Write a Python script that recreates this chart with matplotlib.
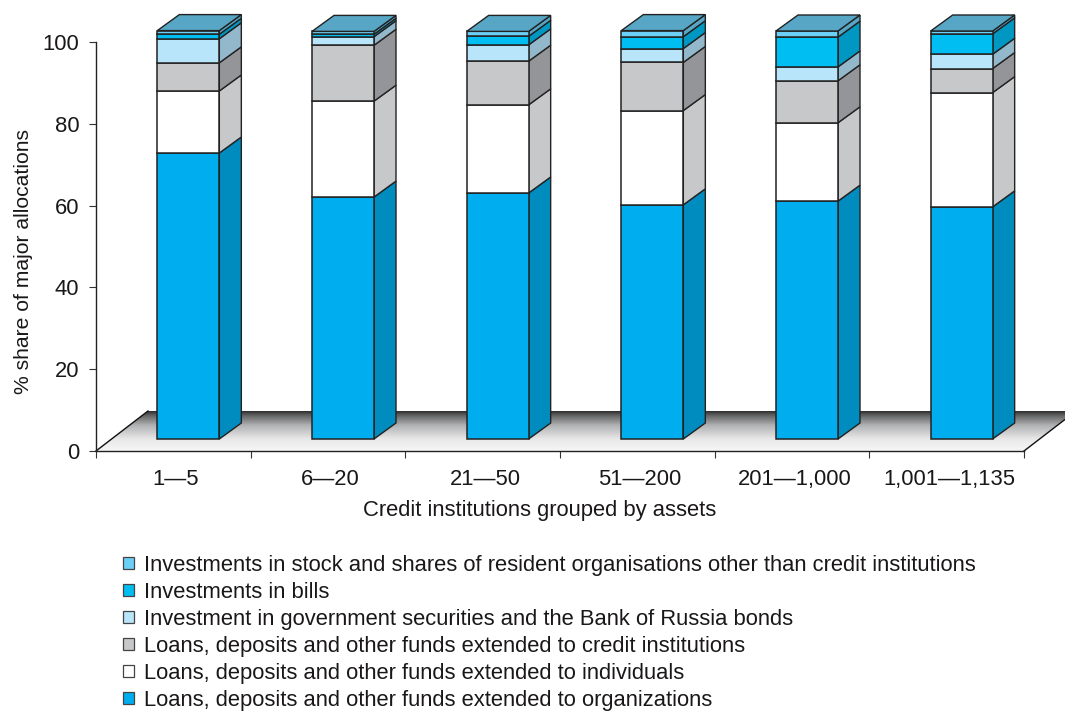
import numpy as np
import matplotlib
matplotlib.use("Agg")
import matplotlib.pyplot as plt
from matplotlib.colors import LinearSegmentedColormap
from matplotlib.patches import Patch, Polygon

plt.rcParams['font.family'] = ['Liberation Sans', 'DejaVu Sans']

categories = ['1—5', '6—20', '21—50', '51—200', '201—1,000', '1,001—1,135']
organisations = [70.1, 59.3, 60.3, 57.4, 58.3, 56.9]
individuals = [15.2, 23.5, 21.6, 23.1, 19.2, 28.0]
credit_institutions = [6.9, 13.7, 10.7, 11.8, 10.3, 5.9]
government = [5.9, 2.1, 4.0, 3.4, 3.4, 3.5]
bills = [1.1, 0.6, 2.1, 2.9, 7.3, 5.0]
stock = [0.9, 0.7, 1.2, 1.5, 1.5, 0.7]

series = [organisations, individuals, credit_institutions, government, bills, stock]
labels = ['Loans, deposits and other funds extended to organizations',
          'Loans, deposits and other funds extended to individuals',
          'Loans, deposits and other funds extended to credit institutions',
          'Investment in government securities and the Bank of Russia bonds',
          'Investments in bills',
          'Investments in stock and shares of resident organisations other than credit institutions']
front_colors = ['#00AEEF', '#FFFFFF', '#C7C8CA', '#B9E5FB', '#00BDF2', '#6DCFF6']
side_colors = ['#008CBF', '#C7C8CA', '#939598', '#93B7CB', '#0098C2', '#57A6C5']
top_color = '#57A6C5'
edge = '#222222'
text_color = '#1A1718'
FS = 15.8

W, H = 1065, 711
fig = plt.figure(figsize=(W / 100, H / 100), dpi=100)
ax = fig.add_axes([96 / W, 1 - 451 / H, (1024 - 96) / W, (451 - 42) / H])
ax.set_xlim(0, 6)
ax.set_ylim(0, 100)

px = 6 / (1024 - 96)      # data units per pixel, horizontally
py = 100 / (451 - 42)     # data units per pixel, vertically

# floor
floor_dx, floor_dy = 52 * px, 40 * py
floor = Polygon([(0, 0), (6, 0), (6 + floor_dx, floor_dy), (floor_dx, floor_dy)],
                closed=True, transform=ax.transData, facecolor='none', edgecolor='none')
ax.add_patch(floor)
cmap = LinearSegmentedColormap.from_list(
    'floor', [(0, '#F6F6F6'), (0.3, '#E8E8E9'), (0.65, '#B0B1B3'), (0.9, '#606060'), (1, '#2E2E2E')])
grad = np.linspace(0, 1, 128).reshape(-1, 1)
im = ax.imshow(grad, origin='lower', cmap=cmap, aspect='auto',
               extent=(0, 6 + floor_dx, 0, floor_dy), zorder=1)
im.set_clip_box(fig.bbox)
im.set_clip_path(floor)
ax.plot([0, floor_dx], [0, floor_dy], color='#111111', lw=1.0, zorder=2, clip_on=False)
ax.plot([6, 6 + floor_dx], [0, floor_dy], color='#111111', lw=1.0, zorder=2, clip_on=False)
ax.set_xlim(0, 6)
ax.set_ylim(0, 100)

# 3-D bars
bar_w = 62 * px
x_shift = 15 * px
base = 12 * py
dep_x, dep_y = 22 * px, 16 * py
scale = 4.08 / 4.09
xs = np.arange(len(categories)) + 0.5 + x_shift

bottom = np.full(len(categories), base)
for vals, fc, sc in zip(series, front_colors, side_colors):
    h = np.array(vals) * scale
    ax.bar(xs, h, width=bar_w, bottom=bottom, color=fc, edgecolor=edge, linewidth=1.1,
           zorder=4, clip_on=False)
    for x, b, hh in zip(xs, bottom, h):
        r = x + bar_w / 2
        ax.fill([r, r + dep_x, r + dep_x, r], [b, b + dep_y, b + hh + dep_y, b + hh],
                facecolor=sc, edgecolor=edge, linewidth=1.0, zorder=3.5, clip_on=False)
    bottom = bottom + h
for x, t in zip(xs, bottom):
    l, r = x - bar_w / 2, x + bar_w / 2
    ax.fill([l, r, r + dep_x, l + dep_x], [t, t, t + dep_y, t + dep_y],
            facecolor=top_color, edgecolor=edge, linewidth=1.0, zorder=5, clip_on=False)

# axes
for s in ('top', 'right'):
    ax.spines[s].set_visible(False)
for s in ('left', 'bottom'):
    ax.spines[s].set_color('#222222')
    ax.spines[s].set_linewidth(1.0)
    ax.spines[s].set_zorder(6)
ax.set_yticks([0, 20, 40, 60, 80, 100])
ax.tick_params(axis='y', length=5, width=0.8, color='#333333', labelsize=FS,
               labelcolor=text_color, pad=7)
ax.set_xticks(np.arange(7))
ax.set_xticklabels([])
ax.set_xticks(np.arange(6) + 0.5 + 2.5 * px, categories, minor=True)
ax.tick_params(axis='x', which='major', length=5, width=0.8, color='#333333')
ax.tick_params(axis='x', which='minor', length=0, labelsize=FS, labelcolor=text_color, pad=13)
ax.set_xlabel('Credit institutions grouped by assets', fontsize=FS, color=text_color,
              x=(540 - 96) / (1024 - 96), labelpad=7)
ax.set_ylabel('% share of major allocations', fontsize=15.2, color=text_color,
              y=(451 - 261) / (451 - 42), labelpad=7)

# legend
handles = [Patch(facecolor=c, edgecolor='#444444', linewidth=0.9, label=l)
           for c, l in zip(front_colors, labels)]
leg = fig.legend(handles[::-1], labels[::-1], loc='upper left',
                 bbox_to_anchor=(123 / W, 1 - 555 / H), frameon=False, fontsize=FS,
                 labelspacing=0.27, handlelength=0.5, handleheight=0.5,
                 handletextpad=0.46, borderpad=0, borderaxespad=0, labelcolor=text_color)

fig.savefig('out.png', dpi=100)
